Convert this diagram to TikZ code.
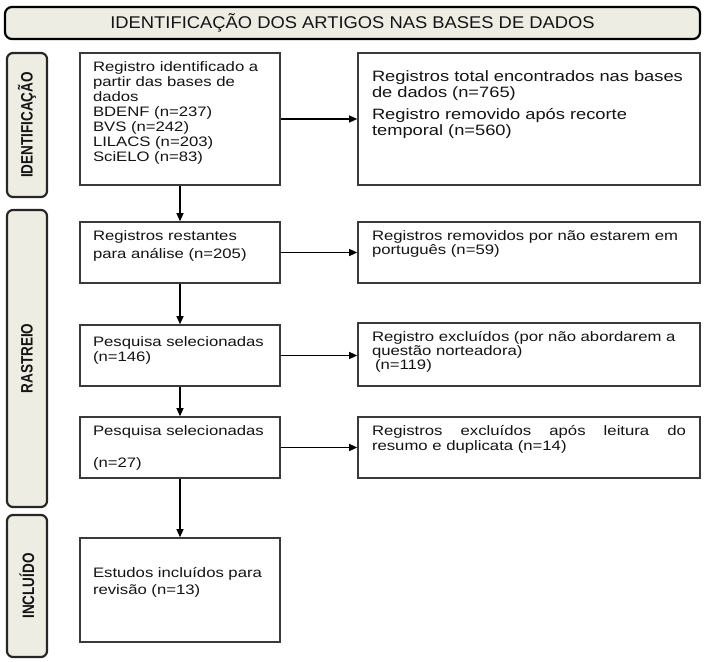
\documentclass[tikz,border=0pt]{standalone}
\usepackage{fontspec}
\setmainfont{Liberation Sans}[FakeStretch=1.22]
\newfontfamily\sidefont{Liberation Sans}[FakeStretch=0.82]
\newfontfamily\headfont{Liberation Sans}[FakeStretch=1.08]
\usetikzlibrary{arrows.meta}
\definecolor{labelfill}{HTML}{EEEDE4}
\definecolor{boxline}{HTML}{3A3A3A}

\begin{document}
\begin{tikzpicture}[
  x=1pt, y=-1pt,
  font=\fontsize{13.7}{15}\selectfont,
  text=black!92,
  head/.style={rectangle, rounded corners=7pt, draw=black, line width=2.2pt,
               fill=labelfill, minimum width=695pt, minimum height=32pt,
               inner sep=0pt, font=\headfont\fontsize{17}{18}\selectfont},
  side/.style={rectangle, rounded corners=6pt, draw=black!85, line width=2.2pt,
               fill=labelfill, rotate=90, minimum height=40pt, inner sep=0pt,
               font=\sidefont\bfseries\fontsize{16.5}{18}\selectfont},
  box/.style={rectangle, draw=boxline, line width=1.6pt, fill=white,
              text width=174pt, inner xsep=13pt, inner ysep=8pt, align=left,
              text height=10.5pt},
  rbox/.style={box, text width=314pt, inner xsep=14pt},
  arr/.style={-{Triangle[length=8pt, width=7pt]}, draw=black, line width=1.2pt}
]
\useasboundingbox (0,0) rectangle (711,661);

% header
\node[head] (hd) at (352.5,23) {IDENTIFICAÇÃO DOS ARTIGOS NAS BASES DE DADOS};

% stage labels
\node[side, minimum width=144pt] (sid) at (27,125)   {IDENTIFICAÇÃO};
\node[side, minimum width=297pt] (sra) at (27,358.5) {RASTREIO};
\node[side, minimum width=142pt] (sin) at (27,586)   {INCLUÍDO};

% left column
\node[box, text depth=105.5pt] (l1) at (180,119) {Registro identificado a\\ partir das bases de\\ dados\\ BDENF (n=237)\\ BVS (n=242)\\ LILACS (n=203)\\ SciELO (n=83)};
\node[box, text depth=34.5pt] (l2) at (180,252.5) {Registros restantes\\[3pt] para análise (n=205)};
\node[box, text height=13.5pt, text depth=31.5pt] (l3) at (180,355.5) {Pesquisa selecionadas\\ (n=146)};
\node[box, text depth=34.5pt] (l4) at (180,447.5) {Pesquisa selecionadas\\[17pt] (n=27)};
\node[box, text height=31.5pt, text depth=56.5pt] (l5) at (180,590) {Estudos incluídos para\\[2pt] revisão (n=13)};

% right column
\node[rbox, font=\fontsize{15}{16}\selectfont, text height=20.5pt, text depth=95.5pt] (r1) at (529,119) {Registros total encontrados nas bases\\ de dados (n=765)\\[6pt] Registro removido após recorte\\ temporal (n=560)};
\node[rbox, text depth=34.5pt] (r2) at (529,252.5) {Registros removidos por não estarem em\\[-1pt] português (n=59)};
\node[rbox, text depth=36.5pt] (r3) at (529,354.5) {Registro excluídos (por não abordarem a\\[-1pt] questão norteadora)\\[-1pt] \hspace*{3pt}(n=119)};
\node[rbox, align=justify, text depth=34.5pt] (r4) at (529,447.5) {Registros excluídos após leitura do\linebreak resumo e duplicata (n=14)};

% flow
\draw[arr] (l1) -- (l2);
\draw[arr] (l2) -- (l3);
\draw[arr] (l3) -- (l4);
\draw[arr] (l4) -- (l5);

\draw[arr] (l1.east) -- (l1.east -| r1.west);
\draw[arr] (l2.east) -- (l2.east -| r2.west);
\draw[arr] (l3.east) -- (l3.east -| r3.west);
\draw[arr] (l4.east) -- (l4.east -| r4.west);
\end{tikzpicture}
\end{document}
